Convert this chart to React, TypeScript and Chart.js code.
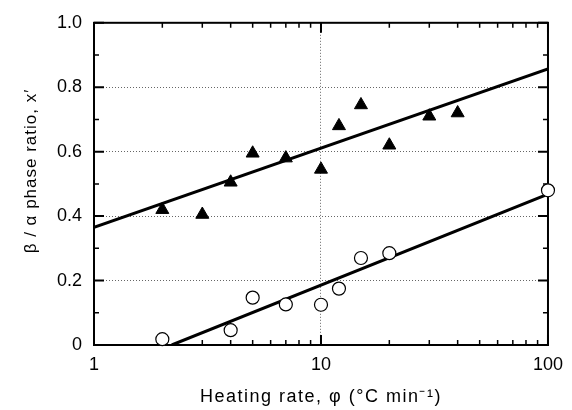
import React, { useEffect, useRef } from 'react';
import { Chart, registerables } from 'chart.js';

Chart.register(...registerables);

// Filled triangles
const triangleX = [2, 3, 4, 5, 7, 10, 12, 15, 20, 30, 40];
const triangleY = [0.42, 0.405, 0.505, 0.595, 0.58, 0.545, 0.68, 0.745, 0.62, 0.71, 0.72];
// Open circles
const circleX = [2, 4, 5, 7, 10, 12, 15, 20, 100];
const circleY = [0.018, 0.046, 0.147, 0.126, 0.125, 0.175, 0.27, 0.285, 0.48];
// Fitted lines
const upperFitX = [1, 100];
const upperFitY = [0.365, 0.857];
const lowerFitX = [2.2, 100];
const lowerFitY = [0, 0.468];
// Axis ticks
const xTickValues = [1, 2, 3, 4, 5, 6, 7, 8, 9, 10, 20, 30, 40, 50, 60, 70, 80, 90, 100];
const xMajorLabels: Record<number, string> = { 1: '1', 10: '10', 100: '100' };
const yTickValues = [0, 0.1, 0.2, 0.3, 0.4, 0.5, 0.6, 0.7, 0.8, 0.9, 1.0];
const yMajorLabels: Record<number, string> = { 0: '0', 2: '0.2', 4: '0.4', 6: '0.6', 8: '0.8', 10: '1.0' };
const yGridValues = [2, 4, 6, 8];
const xGridValues = [10];
const xTitle = 'Heating rate, φ (°C min⁻¹)';
const yTitle = 'β / α phase ratio, x′';

const FONT = '"Liberation Sans", Arial, sans-serif';

const framePlugin = {
  id: 'frameTicks',
  beforeDatasetsDraw(chart: any) {
    const { ctx, chartArea } = chart;
    const { left, right, top, bottom } = chartArea;
    const xs = chart.scales.x;
    const ys = chart.scales.y;
    ctx.save();
    ctx.strokeStyle = '#000';
    for (const v of xTickValues) {
      const px = xs.getPixelForValue(v);
      const major = xMajorLabels[v] !== undefined;
      const len = major ? 10 : 5;
      ctx.lineWidth = major ? 2 : 1.5;
      ctx.beginPath();
      ctx.moveTo(px, bottom);
      ctx.lineTo(px, bottom - len);
      ctx.moveTo(px, top);
      ctx.lineTo(px, top + len);
      ctx.stroke();
    }
    for (const v of yTickValues) {
      const py = ys.getPixelForValue(v);
      const major = Math.round(v * 10) % 2 === 0;
      const len = major ? 10 : 5;
      ctx.lineWidth = major ? 2 : 1.5;
      ctx.beginPath();
      ctx.moveTo(left, py);
      ctx.lineTo(left + len, py);
      ctx.moveTo(right, py);
      ctx.lineTo(right - len, py);
      ctx.stroke();
    }
    ctx.lineWidth = 2;
    ctx.strokeRect(left, top, right - left, bottom - top);
    ctx.restore();
  },
  afterDraw(chart: any) {
    const { ctx, chartArea } = chart;
    ctx.save();
    ctx.fillStyle = '#000';
    ctx.textAlign = 'center';
    ctx.textBaseline = 'middle';
    // x title
    ctx.font = `18px ${FONT}`;
    (ctx as any).letterSpacing = '1.5px';
    ctx.fillText(xTitle, (chartArea.left + chartArea.right) / 2, 397);
    // y title
    ctx.font = `17px ${FONT}`;
    (ctx as any).letterSpacing = '1px';
    ctx.translate(31, 171);
    ctx.rotate(-Math.PI / 2);
    ctx.fillText(yTitle, 0, 0);
    ctx.restore();
  },
};

export default function App() {
  const canvasRef = useRef<HTMLCanvasElement>(null);

  useEffect(() => {
    document.body.style.margin = '0';
    const canvas = canvasRef.current;
    if (!canvas) return;
    const pts = (xs: number[], ys: number[]) => xs.map((x, i) => ({ x, y: ys[i] }));
    const chart = new Chart(canvas, {
      type: 'scatter',
      data: {
        datasets: [
          {
            label: 'upper fit',
            data: pts(upperFitX, upperFitY),
            showLine: true,
            borderColor: '#000',
            borderWidth: 3,
            pointRadius: 0,
            order: 3,
          },
          {
            label: 'lower fit',
            data: pts(lowerFitX, lowerFitY),
            showLine: true,
            borderColor: '#000',
            borderWidth: 3,
            pointRadius: 0,
            order: 3,
          },
          {
            label: 'triangles',
            data: pts(triangleX, triangleY),
            pointStyle: 'triangle',
            pointRadius: 7.5,
            backgroundColor: '#000',
            borderColor: '#000',
            borderWidth: 1,
            order: 1,
            clip: false as any,
          },
          {
            label: 'circles',
            data: pts(circleX, circleY),
            pointStyle: 'circle',
            pointRadius: 6.5,
            backgroundColor: '#fff',
            borderColor: '#000',
            borderWidth: 1.2,
            order: 1,
            clip: false as any,
          },
        ],
      },
      options: {
        animation: false,
        responsive: false,
        layout: { padding: { top: 19, right: 20, bottom: 0, left: 0 } },
        plugins: { legend: { display: false }, tooltip: { enabled: false } },
        scales: {
          x: {
            type: 'logarithmic',
            min: 1,
            max: 100,
            afterBuildTicks: (scale: any) => {
              scale.ticks = xTickValues.map((v) => ({ value: v }));
            },
            afterFit: (scale: any) => {
              scale.height = 65;
            },
            ticks: {
              autoSkip: false,
              maxRotation: 0,
              padding: 9,
              color: '#000',
              font: { family: FONT, size: 18 },
              callback: (value: any) => xMajorLabels[Number(value)] ?? '',
            },
            grid: {
              drawTicks: false,
              lineWidth: 1,
              color: (ctx: any) =>
                ctx.tick && xGridValues.includes(ctx.tick.value) ? '#666' : 'rgba(0,0,0,0)',
            },
            border: { display: false, dash: [1, 2] },
          },
          y: {
            type: 'linear',
            min: 0,
            max: 1,
            afterBuildTicks: (scale: any) => {
              scale.ticks = yTickValues.map((v) => ({ value: v }));
            },
            afterFit: (scale: any) => {
              scale.width = 94;
            },
            ticks: {
              autoSkip: false,
              padding: 12,
              color: '#000',
              font: { family: FONT, size: 18 },
              callback: (value: any) => yMajorLabels[Math.round(Number(value) * 10)] ?? '',
            },
            grid: {
              drawTicks: false,
              lineWidth: 1,
              color: (ctx: any) =>
                ctx.tick && yGridValues.includes(Math.round(ctx.tick.value * 10))
                  ? '#666'
                  : 'rgba(0,0,0,0)',
            },
            border: { display: false, dash: [1, 2] },
          },
        },
      },
      plugins: [framePlugin],
    });
    return () => chart.destroy();
  }, []);

  return (
    <div style={{ position: 'absolute', left: 0, top: 0, width: 572, height: 410, background: '#fff' }}>
      <canvas ref={canvasRef} width={572} height={410} style={{ display: 'block' }} />
    </div>
  );
}
